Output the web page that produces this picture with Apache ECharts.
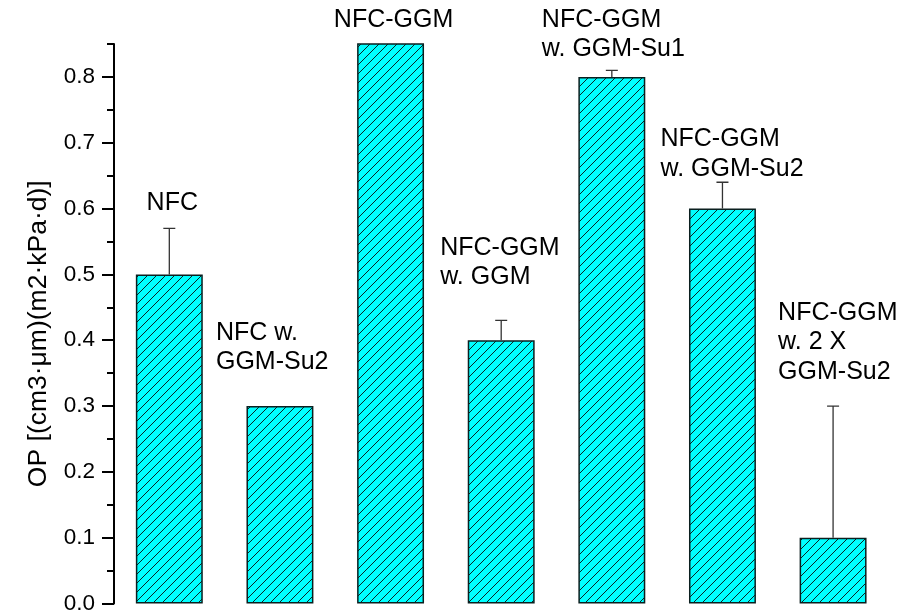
<!DOCTYPE html>
<html>
<head>
<meta charset="utf-8">
<title>OP bars</title>
<script src="https://cdn.jsdelivr.net/npm/echarts@6.0.0/dist/echarts.min.js"></script>
<style>
  html, body { margin: 0; padding: 0; background: #fff; }
  #chart { width: 919px; height: 615px; }
</style>
</head>
<body>
<div id="chart"></div>
<script>
// 数据
var categories = ['NFC', 'NFC w. GGM-Su2', 'NFC-GGM', 'NFC-GGM w. GGM', 'NFC-GGM w. GGM-Su1', 'NFC-GGM w. GGM-Su2', 'NFC-GGM w. 2 X GGM-Su2'];
var opValues = [0.5, 0.3, 0.9, 0.4, 0.8, 0.6, 0.1];   // NFC-GGM runs off the top of the axis
var opErrors = [0.07, 0, 0, 0.03, 0.01, 0.04, 0.2];
var barLabels = ['NFC', 'NFC w.\nGGM-Su2', 'NFC-GGM', 'NFC-GGM\nw. GGM', 'NFC-GGM\nw. GGM-Su1', 'NFC-GGM\nw. GGM-Su2', 'NFC-GGM\nw. 2 X\nGGM-Su2'];
var labelAt = [0.609, 0.389, 0.887, 0.518, 0.864, 0.683, 0.397];  // label centre, OP units
var yTicks = [0, 0.1, 0.2, 0.3, 0.4, 0.5, 0.6, 0.7, 0.8];
var yMinorTicks = [0.05, 0.15, 0.25, 0.35, 0.45, 0.55, 0.65, 0.75, 0.85];

// label layout (pixels from category centre)
var labelDx = [3, -64, 3, -61, -70, -62, -55];
var labelAlign = ['center', 'left', 'center', 'left', 'left', 'left', 'left'];

var FONT = '"Liberation Sans", Arial, sans-serif';

// 斜线填充
function hatch(){
    var c = document.createElement('canvas');
    var s = 9;
    c.width = s; c.height = s;
    var ctx = c.getContext('2d');
    ctx.fillStyle = '#00ffff';
    ctx.fillRect(0, 0, s, s);
    ctx.strokeStyle = '#0b2424';
    ctx.lineWidth = 1;
    ctx.beginPath();
    ctx.moveTo(-1, s + 1); ctx.lineTo(s + 1, -1);
    ctx.moveTo(-2, 1); ctx.lineTo(1, -2);
    ctx.moveTo(s - 1, s + 2); ctx.lineTo(s + 2, s - 1);
    ctx.stroke();
    return c;
}

var myChart = echarts.init(document.getElementById('chart'));

var errData = opValues.map(function(v, i){ return [i, v, opErrors[i]]; });
var labelData = labelAt.map(function(v, i){ return [i, v]; });

var option = {
    animation: false,
    grid: { left: 114, right: 30.6, top: 44, bottom: 8 },
    xAxis: {
        type: 'category',
        data: categories,
        boundaryGap: true,
        axisLine: { show: false },
        axisTick: { show: false },
        axisLabel: { show: false },
        splitLine: { show: false }
    },
    yAxis: [
        {
            type: 'value',
            position: 'left',
            min: 0,
            max: 0.85,
            name: 'OP [(cm3·μm)(m2·kPa·d)]',
            nameLocation: 'middle',
            nameGap: 62,
            nameRotate: 90,
            nameTextStyle: { fontFamily: FONT, fontSize: 26.5, color: '#000', padding: [0, 20, 0, 0] },
            axisLine: { show: true, lineStyle: { color: '#000', width: 2 } },
            axisTick: { show: true, inside: false, length: 12, lineStyle: { color: '#000', width: 2 }, customValues: yTicks },
            axisLabel: {
                margin: 19,
                fontFamily: FONT,
                fontSize: 22.5,
                color: '#000',
                customValues: yTicks,
                formatter: function(v){ return v.toFixed(1); }
            },
            splitLine: { show: false }
        },
        {
            // 次刻度
            type: 'value',
            position: 'left',
            min: 0,
            max: 0.85,
            axisLine: { show: false },
            axisTick: { show: true, inside: false, length: 7, lineStyle: { color: '#000', width: 2 }, customValues: yMinorTicks },
            axisLabel: { show: false },
            splitLine: { show: false }
        }
    ],
    series: [
        {
            type: 'bar',
            data: opValues,
            barWidth: '60.5%',
            clip: true,
            itemStyle: {
                color: { image: hatch(), repeat: 'repeat' },
                borderColor: '#0b1f1f',
                borderWidth: 1.5
            },
            z: 2
        },
        {
            type: 'custom',
            data: errData,
            clip: true,
            z: 3,
            renderItem: function(params, api){
                var i = api.value(0), v = api.value(1), e = api.value(2);
                if (!e) return null;
                var p0 = api.coord([i, v]);
                var p1 = api.coord([i, v + e]);
                var st = { stroke: '#333', lineWidth: 1.3 };
                return {
                    type: 'group',
                    children: [
                        { type: 'line', shape: { x1: p0[0], y1: p0[1], x2: p1[0], y2: p1[1] }, style: st },
                        { type: 'line', shape: { x1: p1[0] - 6, y1: p1[1], x2: p1[0] + 6, y2: p1[1] }, style: st }
                    ]
                };
            }
        },
        {
            type: 'custom',
            data: labelData,
            clip: false,
            z: 4,
            silent: true,
            renderItem: function(params, api){
                var i = params.dataIndex;
                var p = api.coord([api.value(0), api.value(1)]);
                return {
                    type: 'text',
                    x: p[0] + labelDx[i],
                    y: p[1],
                    style: {
                        text: barLabels[i],
                        fontFamily: FONT,
                        fontSize: 25,
                        lineHeight: 29.5,
                        fill: '#000',
                        align: labelAlign[i],
                        verticalAlign: 'middle'
                    }
                };
            }
        }
    ]
};
myChart.setOption(option);
</script>
</body>
</html>
